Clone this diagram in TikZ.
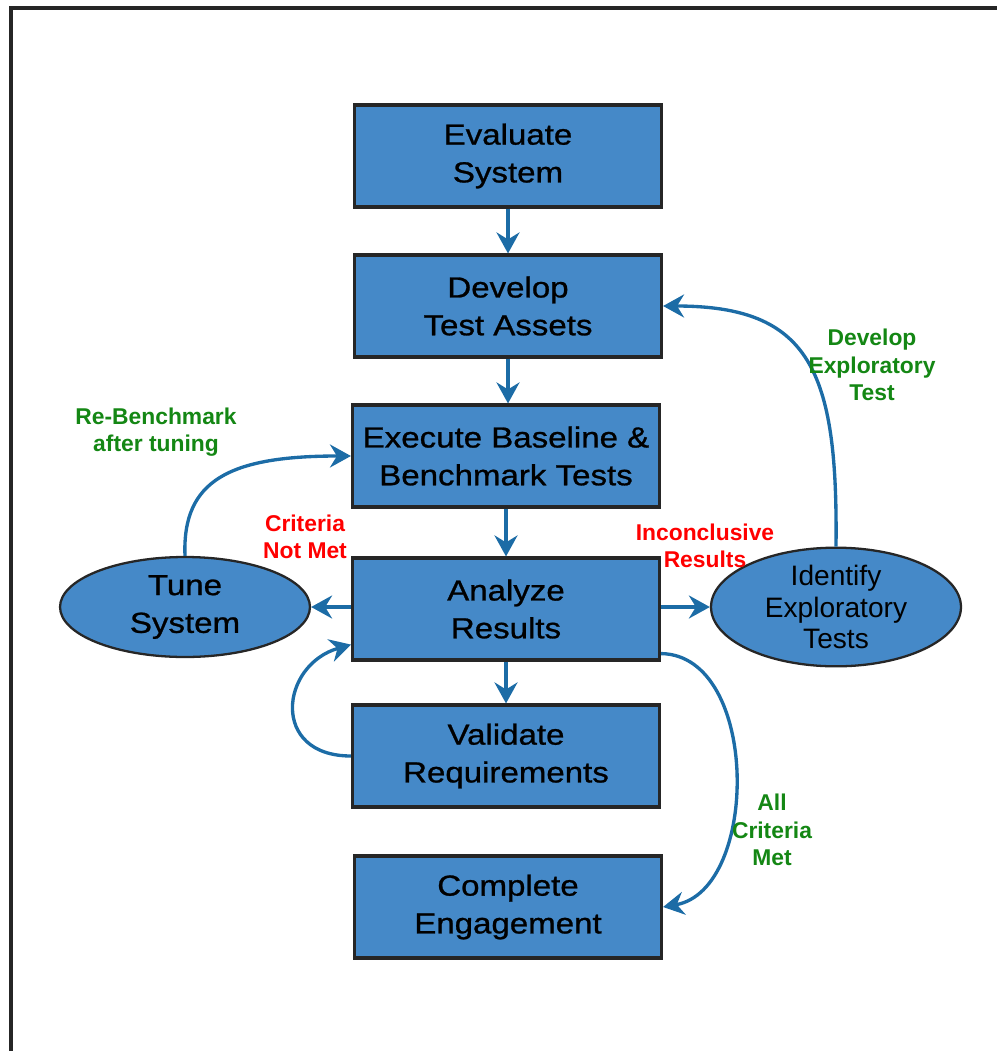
\documentclass[tikz,border=0pt]{standalone}
\usepackage{fontspec}
\setmainfont{Liberation Sans}
\newfontfamily\widesans[FakeStretch=1.14, FakeBold=0.9]{Liberation Sans}
\usetikzlibrary{arrows.meta,shapes.geometric}

\definecolor{boxblue}{RGB}{69,137,200}
\definecolor{arrowblue}{RGB}{28,108,166}
\definecolor{labelgreen}{RGB}{20,135,20}

\begin{document}
\begin{tikzpicture}[x=0.02cm, y=-0.02cm,
    >={Stealth[length=0.42cm, width=0.46cm, inset=0.14cm]},
    procbox/.style={draw=black!85, line width=1.8pt, fill=boxblue, minimum width=6.14cm,
        minimum height=2.04cm, inner sep=0pt, align=center,
        font=\widesans\fontsize{16.5}{21.5}\selectfont},
    roundnode/.style={ellipse, draw=black!85, line width=1.3pt, fill=boxblue, minimum width=5cm,
        minimum height=2cm, inner sep=0pt, align=center},
    flow/.style={->, draw=arrowblue, line width=1.9pt},
    greenlabel/.style={text=labelgreen, align=center, font=\fontsize{13}{15.5}\selectfont\bfseries},
    redlabel/.style={text=red, align=center, font=\fontsize{13}{15.5}\selectfont\bfseries}]
            % Frame
            \useasboundingbox (0,0) rectangle (997,1051);
            \draw[line width=2.2pt, black!85] (11,1051) -- (11,8) -- (997,8);

            % Main column
            \node[procbox] (evaluate) at (508,156) {Evaluate\\System};
            \node[procbox] (develop) at (508,306) {Develop\\Test Assets};
            \node[procbox] (execute) at (506,456) {Execute Baseline \&\\Benchmark Tests};
            \node[procbox] (analyze) at (506,609) {Analyze\\Results};
            \node[procbox] (validate) at (506,756) {Validate\\Requirements};
            \node[procbox] (complete) at (508,907) {Complete\\Engagement};

            % Side ellipses
            \node[roundnode, font=\widesans\fontsize{16.5}{21.5}\selectfont] (tune) at (185,607) {Tune\\System};
            \node[roundnode, font=\fontsize{16}{18}\selectfont] (identify) at (836,607) {Identify\\Exploratory\\Tests};

            % Straight flow
            \draw[flow] (evaluate) -- (develop);
            \draw[flow] (develop) -- (develop |- execute.north);
            \draw[flow] (execute) -- (execute |- analyze.north);
            \draw[flow] (analyze) -- (validate);
            \draw[flow] (analyze.west |- tune.east) -- (tune.east);
            \draw[flow] (analyze.east |- identify.west) -- (identify.west);

            % Loops
            \draw[flow] (tune.north) .. controls (182,480) and (230,456) .. (execute.west);
            \draw[flow] (identify.north) .. controls (838,370) and (810,306) .. (develop.east);
            \draw[flow] (validate.west) .. controls (270,756) and (280,665) .. ([yshift=0.34cm]analyze.south west);
            \draw[flow] ([yshift=0.16cm]analyze.south east) .. controls (760,655) and (760,890) .. (complete.east);

            % Annotations
            \node[greenlabel] (rebench) at (156,432) {Re-Benchmark\\after tuning};
            \node[redlabel] (notmet) at (305,537) {Criteria\\Not Met};
            \node[greenlabel] (explore) at (872,365) {Develop\\Exploratory\\Test};
            \node[redlabel] (inconcl) at (705,546) {Inconclusive\\Results};
            \node[greenlabel] (allmet) at (772,830) {All\\Criteria\\Met};
        \end{tikzpicture}
\end{document}
